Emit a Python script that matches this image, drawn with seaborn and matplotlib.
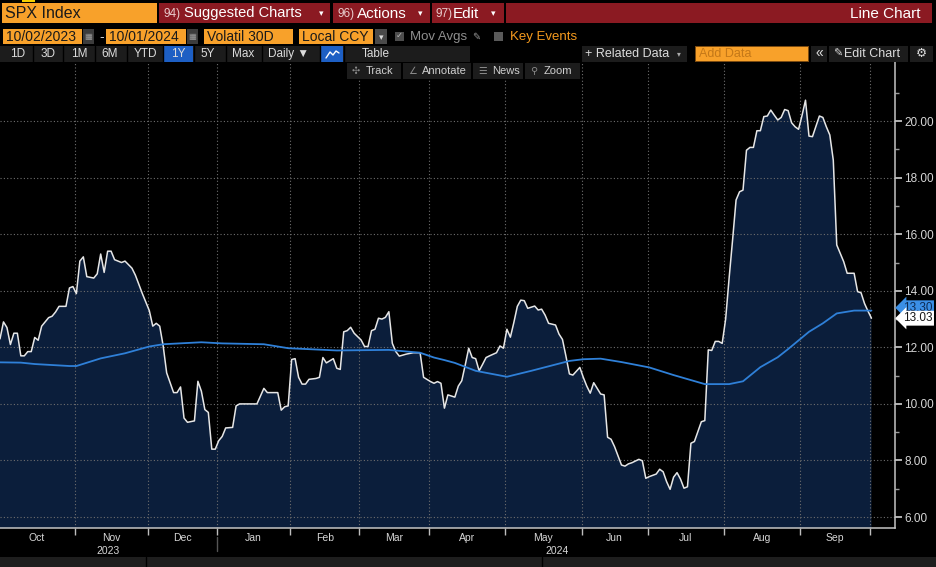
import numpy as np
import pandas as pd
import matplotlib
matplotlib.use("Agg")
import matplotlib.pyplot as plt
import matplotlib.transforms as mtransforms
from matplotlib.patches import Rectangle
import seaborn as sns

# SPX 30 day volatility
# session = trading day number counted from 10/02/2023
vol_session = [0, 1, 2, 3, 4, 5, 6, 7, 8, 9, 10, 11, 12, 14, 15, 16, 17, 19, 20, 21,
               22, 23, 24, 25, 27, 28, 29, 30, 31, 32, 33, 35, 36, 38, 39, 41, 43, 44, 45, 46,
               47, 48, 50, 51, 52, 53, 54, 56, 57, 58, 59, 60, 61, 62, 63, 64, 65, 67, 68, 69,
               74, 76, 77, 80, 81, 82, 83, 84, 85, 86, 87, 88, 89, 91, 92, 93, 94, 96, 97, 98,
               99, 100, 101, 102, 104, 105, 106, 107, 108, 109, 110, 111, 112, 113, 114, 115, 117, 119, 121, 122,
               124, 125, 126, 127, 128, 129, 131, 132, 133, 134, 135, 136, 137, 138, 139, 140, 141, 143, 144, 145,
               146, 147, 148, 149, 150, 151, 152, 154, 155, 156, 157, 158, 160, 161, 162, 163, 164, 165, 167, 168,
               169, 170, 171, 172, 173, 174, 175, 176, 177, 179, 180, 181, 182, 184, 185, 186, 187, 189, 190, 191,
               192, 193, 194, 195, 196, 197, 198, 199, 200, 201, 202, 203, 204, 205, 206, 207, 208, 209, 210, 211,
               212, 213, 214, 215, 216, 217, 218, 219, 220, 221, 222, 223, 224, 225, 226, 227, 228, 229, 230, 231,
               232, 233, 234, 235, 236, 237, 238, 239, 240, 241, 242, 243, 244, 246, 247, 248, 249, 250, 251]
vol_value = [12.3, 12.9, 12.7, 12.1, 12.5, 12.5, 11.7, 11.7, 11.85, 11.85, 12.35, 12.25, 12.75, 13.05, 13.1, 13.25, 13.45, 13.45, 14.1, 14.15,
             13.9, 15.05, 15.2, 14.5, 14.45, 14.6, 15.3, 14.65, 15.4, 15.4, 15.1, 15.0, 15.05, 14.8, 14.55, 13.9, 13.3, 12.75, 12.85, 12.75,
             12.05, 11.1, 10.4, 10.4, 10.6, 9.5, 9.35, 9.4, 10.8, 10.45, 9.8, 9.7, 8.4, 8.4, 8.7, 8.85, 9.15, 9.17, 9.93, 10.0,
             10.0, 10.55, 10.4, 10.4, 9.78, 9.9, 9.93, 11.57, 11.6, 10.94, 10.7, 10.7, 10.87, 10.9, 10.94, 11.64, 11.45, 11.6, 11.26, 11.22,
             12.55, 12.59, 12.71, 12.5, 12.26, 12.03, 12.03, 12.59, 12.64, 13.03, 13.0, 13.06, 13.26, 12.14, 11.85, 11.69, 11.76, 11.81, 11.81, 10.94,
             10.79, 10.73, 10.79, 10.73, 9.85, 10.32, 10.24, 10.63, 10.82, 11.38, 11.97, 11.64, 11.6, 11.17, 11.4, 11.64, 11.7, 11.81, 12.05, 11.97,
             12.64, 12.36, 12.88, 13.45, 13.67, 13.65, 13.38, 13.46, 13.32, 13.35, 13.14, 12.85, 12.79, 12.47, 12.28, 11.69, 11.06, 11.02, 11.29, 10.94,
             10.63, 10.38, 10.75, 10.55, 10.35, 10.32, 8.82, 8.75, 8.49, 7.84, 7.8, 7.88, 7.92, 8.04, 7.99, 7.37, 7.43, 7.52, 7.69, 7.6,
             7.25, 6.98, 7.41, 7.57, 7.34, 7.02, 7.07, 8.61, 8.67, 9.02, 9.37, 9.41, 11.91, 11.89, 12.21, 12.21, 12.14, 13.0, 14.45, 15.8,
             17.21, 17.5, 17.56, 18.97, 19.07, 19.07, 19.66, 19.66, 20.16, 20.18, 20.39, 20.21, 20.04, 20.13, 20.41, 20.37, 19.94, 19.8, 19.71, 20.2,
             20.74, 19.47, 19.45, 19.82, 20.18, 20.13, 19.8, 19.51, 18.62, 15.62, 15.32, 15.03, 14.62, 14.62, 13.97, 13.93, 13.55, 13.28, 13.03]

# moving average (blue line)
ma_session = [0, 6, 10, 20, 22, 29, 36, 43, 47, 58, 64, 76, 83, 97, 112, 121, 125, 128, 131, 137,
              146, 153, 164, 168, 173, 179, 187, 194, 203, 210, 214, 219, 224, 227, 233, 237, 241, 246, 251]
ma_value = [11.47, 11.46, 11.41, 11.34, 11.34, 11.61, 11.79, 12.03, 12.11, 12.18, 12.14, 12.11, 11.97, 11.89, 11.91, 11.81, 11.64, 11.55, 11.45, 11.17,
            10.96, 11.17, 11.52, 11.58, 11.6, 11.48, 11.29, 11.02, 10.7, 10.7, 10.8, 11.3, 11.65, 11.94, 12.55, 12.85, 13.2, 13.3, 13.3]

y_ticks = [6, 8, 10, 12, 14, 16, 18, 20]
y_minor = [7, 9, 11, 13, 15, 17, 19, 21]

us_holidays = ["2023-11-23", "2023-12-25", "2024-01-01", "2024-01-15", "2024-02-19",
               "2024-03-29", "2024-05-27", "2024-06-19", "2024-07-04", "2024-09-02"]
sessions = pd.bdate_range("2023-10-02", "2024-10-01", freq="C", holidays=us_holidays)

ORANGE = "#F8A12A"
RED = "#8B1A22"
FILL = "#0b1e3b"

sns.set_theme(style="dark", rc={"axes.facecolor": "black", "figure.facecolor": "black"})
plt.rcParams["font.family"] = ["Liberation Sans", "DejaVu Sans"]

fig = plt.figure(figsize=(9.36, 5.67), dpi=100)
ax = fig.add_axes([0, 39.5 / 567, 895 / 936, 465.5 / 567])

vol = pd.DataFrame({"session": vol_session, "vol": vol_value})
ma = pd.DataFrame({"session": ma_session, "ma": ma_value})

ax.fill_between(vol["session"], vol["vol"], 0, color=FILL, lw=0, zorder=1)
sns.lineplot(data=vol, x="session", y="vol", ax=ax, color="#e6e6e6", lw=1.1, zorder=3)
sns.lineplot(data=ma, x="session", y="ma", ax=ax, color="#2f80d8", lw=1.3, zorder=4)

ax.set_xlim(0, 895 / 3.472)
ax.set_ylim(5.63, 22.09)
ax.set_xlabel("")
ax.set_ylabel("")

# month boundaries on a trading-day axis
pos = pd.Series(np.arange(len(sessions)), index=sessions)
month_start = pos.groupby(sessions.to_period("M")).first()
starts = month_start.values
month_lines = starts[1:] - 0.5
month_mids = (starts[:-1] + starts[1:]) / 2 - 0.5
month_names = [p.strftime("%b") for p in month_start.index[:-1]]

ax.set_xticks(month_lines)
ax.set_xticklabels([""] * len(month_lines))
ax.set_xticks(month_mids, minor=True)
ax.set_xticklabels(month_names, minor=True)
ax.tick_params(axis="x", which="major", bottom=True, length=5, width=1, color="#bdbdbd")
ax.tick_params(axis="x", which="minor", bottom=True, length=0, labelsize=7.5, labelcolor="#d6d6d6", pad=4)

ax.yaxis.tick_right()
ax.set_yticks(y_ticks)
ax.set_yticklabels([f"{v:.2f}" for v in y_ticks])
ax.set_yticks(y_minor, minor=True)
ax.tick_params(axis="y", which="major", right=True, left=False, length=5, width=1.2,
               color="#d0d0d0", labelcolor="#d6d6d6", labelsize=8.5, pad=1.5)
ax.tick_params(axis="y", which="minor", right=True, left=False, length=3, width=1, color="#9a9a9a")

ax.grid(True, which="major", color="#6e6e6e", ls=(0, (1, 2)), lw=0.8)
ax.grid(False, which="minor")
ax.set_axisbelow("line")
for name, sp in ax.spines.items():
    sp.set_visible(name in ("right", "bottom"))
    sp.set_color("#c4c4c4")
    sp.set_linewidth(1.1)

# year labels under the months
xt = mtransforms.blended_transform_factory(ax.transData, ax.transAxes)
first_2024 = int(pos["2024"].iloc[0])
ax.text(first_2024 / 2 - 0.5, -0.05, "2023", transform=xt, ha="center", va="center",
        fontsize=7.5, color="#d6d6d6")
ax.text((first_2024 + ax.get_xlim()[1]) / 2, -0.05, "2024", transform=xt, ha="center", va="center",
        fontsize=7.5, color="#d6d6d6")
ax.plot([first_2024 - 0.5] * 2, [-0.02, -0.05], transform=xt, color="#555555", lw=1, clip_on=False)

# last value tags on the right axis
yt = ax.get_yaxis_transform()
ax.text(1.009, ma_value[-1] + 0.1, f"{ma_value[-1]:.2f}", transform=yt, ha="left", va="center",
        fontsize=8.5, color="#0d2a52", clip_on=False, zorder=10,
        bbox=dict(boxstyle="larrow,pad=0.12", fc="#3b8fe6", ec="none"))
ax.text(1.009, vol_value[-1], f"{vol_value[-1]:.2f}", transform=yt, ha="left", va="center",
        fontsize=8.5, color="#151515", clip_on=False, zorder=11,
        bbox=dict(boxstyle="larrow,pad=0.12", fc="white", ec="none"))

# terminal header drawn in pixel coordinates
ov = fig.add_axes([0, 0, 1, 1], zorder=5)
ov.set_xlim(0, 936)
ov.set_ylim(567, 0)
ov.axis("off")


def box(x0, y0, x1, y1, color):
    ov.add_patch(Rectangle((x0, y0), x1 - x0, y1 - y0, fc=color, ec="none"))


def label(x, y, s, size=11, color="white", ha="left"):
    ov.text(x, y, s, fontsize=size, color=color, ha=ha, va="center")


# row 1
box(22, 0, 35, 2, "#f5d000")
box(2, 3, 157, 23, ORANGE)
label(5, 13.5, "SPX Index", 11.5, "#1a1a1a")
box(159, 3, 330, 23, RED)
label(163, 13.5, "94)", 8.5, "#e8cccc")
label(184, 13.5, "Suggested Charts", 10.5)
label(319, 14, "▾", 6.5)
box(333, 3, 430, 23, RED)
label(337, 13.5, "96)", 8.5, "#e8cccc")
label(357, 13.5, "Actions", 11)
label(418, 14, "▾", 6.5)
box(432, 3, 504, 23, RED)
label(435, 13.5, "97)", 8.5, "#e8cccc")
label(453, 13.5, "Edit", 11)
label(491, 14, "▾", 6.5)
box(506, 3, 932, 23, RED)
label(921, 13.5, "Line Chart", 11, ha="right")

# row 2
box(3, 29, 82, 44, ORANGE)
label(6, 37, "10/02/2023", 10, "#1a1a1a")
box(83, 29, 94, 44, "#3c3c3c")
label(88.5, 37, "▦", 6, "#9a9a9a", ha="center")
label(99, 37, "-", 10, "#cfcfcf")
box(106, 29, 186, 44, ORANGE)
label(109, 37, "10/01/2024", 10, "#1a1a1a")
box(187, 29, 198, 44, "#3c3c3c")
label(192.5, 37, "▦", 6, "#9a9a9a", ha="center")
box(204, 29, 293, 44, ORANGE)
label(207, 37, "Volatil 30D", 10, "#1a1a1a")
box(299, 29, 373, 44, ORANGE)
label(302, 37, "Local CCY", 10, "#1a1a1a")
box(375, 29, 387, 44, "#4a4a4a")
label(381, 37.5, "▾", 6.5, "#dddddd", ha="center")
box(395, 32, 404, 41, "#4d4d4d")
label(399.5, 36.5, "✓", 6, "#bbbbbb", ha="center")
label(410, 37, "Mov Avgs", 9.5, "#8e8e8e")
label(472, 36.5, "✎", 7, "#9a9a9a")
box(494, 32, 503, 41, "#5a5a5a")
label(510, 37, "Key Events", 9.5, "#f59a1e")

# row 3
box(0, 46, 470, 62, "#1c1c1c")
box(164, 46, 193, 62, "#1d5fc4")
box(321, 46, 343, 62, "#1d5fc4")
for sx in [33, 63, 95, 127, 163, 194, 226, 262, 320, 344]:
    ov.plot([sx, sx], [46, 62], color="black", lw=1)
for cx, s in [(18, "1D"), (48, "3D"), (79, "1M"), (110, "6M"), (145, "YTD"), (178, "1Y"),
              (208, "5Y"), (243, "Max"), (289, "Daily ▼"), (376, "Table")]:
    label(cx, 54, s, 8.5, "#dcdcdc", ha="center")
ov.plot([326, 330, 333, 336, 339], [58, 52, 55, 51, 53], color="white", lw=1)
box(582, 46, 687, 62, "#1c1c1c")
label(585, 54, "+ Related Data", 9, "#dcdcdc")
label(677, 54.5, "▾", 5.5, "#aaaaaa")
box(695, 46, 809, 62, "#7a4a10")
box(696, 47, 808, 61, ORANGE)
label(699, 54, "Add Data", 9, "#c47818")
box(811, 46, 827, 62, "#1c1c1c")
label(819, 53.5, "«", 10, "#dcdcdc", ha="center")
box(829, 46, 908, 62, "#1c1c1c")
label(833, 54, "✎", 8, "#dcdcdc")
label(844, 54, "Edit Chart", 9, "#dcdcdc")
box(910, 46, 933, 62, "#1c1c1c")
label(921.5, 54, "⚙", 9, "#dcdcdc", ha="center")

# row 4 (chart tools)
for x0, x1, icon, s in [(347, 401, "✣", "Track"), (403, 471, "∠", "Annotate"),
                        (473, 523, "☰", "News"), (525, 580, "⚲", "Zoom")]:
    box(x0, 63, x1, 79, "#1c1c1c")
    label(x0 + 5, 71, icon, 7, "#8a8a8a")
    label(x0 + 19, 71, s, 8, "#cfcfcf")

# bottom strip
box(0, 557, 936, 567, "#1e1e1e")
ov.plot([146, 146], [557, 567], color="black", lw=1)
ov.plot([542, 542], [557, 567], color="black", lw=1)

fig.savefig("out.png", dpi=100, facecolor="black")
